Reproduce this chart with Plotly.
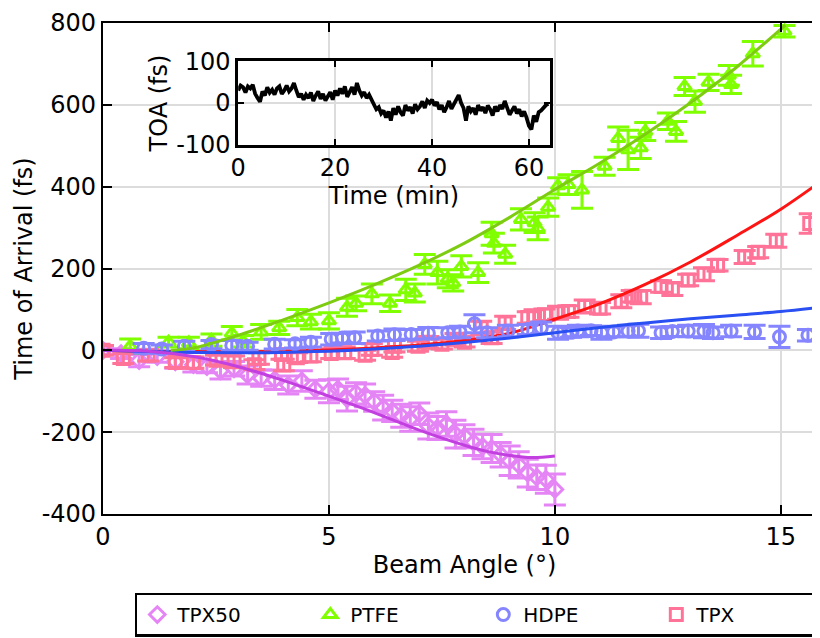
import plotly.graph_objects as go

# ---------------- data ----------------
tpx50_x = [0, 0.4, 0.8, 1.2, 1.6, 2.0, 2.3, 2.6, 2.9, 3.2, 3.5, 3.8, 4.1, 4.4, 4.7, 5.0, 5.2, 5.4, 5.6, 5.8,
           6.0, 6.2, 6.4, 6.6, 6.8, 7.0, 7.2, 7.4, 7.6, 7.8, 8.0, 8.2, 8.4, 8.6, 8.8, 9.0, 9.2, 9.4, 9.6, 9.8, 10.0]
tpx50_y = [0, -8, -25, -15, -28, -35, -40, -50, -45, -60, -68, -72, -85, -75, -95, -100, -95, -118, -105, -110,
           -125, -140, -148, -160, -168, -155, -185, -190, -180, -205, -210, -225, -235, -240, -255, -270, -280, -300, -310, -315, -340]
tpx50_e = [10, 12, 15, 14, 16, 18, 15, 20, 18, 22, 20, 24, 22, 25, 22, 28, 25, 30, 26, 28,
           24, 30, 26, 28, 30, 26, 32, 28, 30, 34, 28, 32, 30, 34, 30, 36, 32, 34, 30, 34, 38]

ptfe_x = [0.6, 1.45, 1.9, 2.4, 2.85, 3.1, 3.5, 3.9, 4.3, 4.6, 5.0, 5.4, 5.6, 5.95, 6.35, 6.7, 6.9, 7.12, 7.4, 7.63,
          7.75, 7.93, 8.3, 8.6, 8.65, 8.9, 9.25, 9.55, 9.62, 9.85, 10.07, 10.3, 10.6, 11.1, 11.4, 11.62, 11.9, 12.0,
          12.5, 12.68, 12.87, 13.1, 13.4, 13.85, 13.9, 14.38, 15.08]
ptfe_y = [10, 20, 18, 25, 42, 22, 45, 55, 80, 70, 72, 105, 115, 138, 115, 148, 140, 210, 190, 175,
          165, 205, 190, 285, 262, 235, 320, 312, 298, 350, 402, 405, 392, 450, 518, 490, 495, 535,
          560, 535, 645, 608, 655, 672, 650, 725, 780]
ptfe_e = [18, 12, 14, 15, 16, 14, 18, 16, 20, 18, 20, 22, 18, 24, 20, 26, 22, 24, 28, 22,
          20, 26, 24, 28, 24, 22, 26, 24, 28, 22, 20, 24, 45, 22, 28, 48, 26, 22,
          20, 24, 22, 26, 20, 24, 22, 30, 14]

hdpe_x = [0.9, 1.3, 1.8, 2.4, 2.85, 3.2, 3.8, 4.25, 4.6, 5.05, 5.3, 5.57, 6.08, 6.45, 6.82, 7.2, 7.63, 7.9, 8.22,
          8.5, 8.96, 9.4, 9.7, 10.07, 10.36, 10.51, 10.8, 11.03, 11.3, 11.62, 11.85, 12.35, 12.6, 12.95, 13.3, 13.5,
          13.9, 14.42, 14.97, 15.6]
hdpe_y = [5, 3, 10, 14, 12, 10, 15, 16, 20, 27, 30, 31, 35, 38, 39, 42, 43, 45, 65,
          43, 47, 51, 55, 43, 44, 47, 48, 43, 45, 47, 48, 43, 46, 47, 47, 43,
          47, 45, 33, 37]
hdpe_e = [12, 10, 12, 10, 12, 10, 12, 10, 12, 14, 12, 14, 12, 14, 12, 14, 12, 14, 22,
          12, 14, 12, 14, 16, 12, 14, 12, 16, 12, 14, 16, 14, 12, 14, 16, 14,
          14, 16, 26, 14]

tpx_x = [0, 0.45, 1.0, 1.6, 2.0, 2.5, 2.9, 3.35, 3.45, 3.95, 4.0, 4.3, 4.6, 5.05, 5.35, 5.8, 5.95, 6.4, 6.45, 6.97,
         7.2, 7.5, 7.8, 8.0, 8.37, 8.6, 8.9, 9.4, 9.55, 9.77, 10.07, 10.3, 10.66, 11.0, 11.47, 11.7, 11.9, 12.35,
         12.6, 12.95, 13.3, 13.6, 14.2, 14.5, 14.9, 15.64]
tpx_y = [0, -20, -12, -30, -30, -24, -28, -35, -20, -10, -36, -18, -14, -8, -6, -12, 2, -5, 10, 10,
         20, 15, 27, 20, 55, 31, 67, 80, 83, 87, 92, 95, 107, 103, 120, 132, 130, 156,
         150, 172, 186, 208, 228, 240, 268, 310]
tpx_e = [12, 12, 14, 12, 14, 12, 14, 12, 14, 12, 14, 12, 14, 12, 14, 12, 14, 12, 14, 12,
         14, 12, 14, 12, 16, 14, 16, 14, 16, 14, 16, 14, 16, 14, 16, 14, 16, 14,
         16, 14, 16, 14, 16, 14, 16, 24]

# fitted curves
fit_tpx50_x = [0, 1, 2, 3, 4, 5, 6, 7, 8, 8.5, 9, 9.5, 10]
fit_tpx50_y = [0, -2, -15, -40, -74, -112, -152, -195, -232, -247, -257, -262, -258]

fit_ptfe_x = [1.5, 2, 3, 4, 5, 6, 7, 8, 9, 10, 11, 12, 13, 14, 15.1]
fit_ptfe_y = [0, 6, 37, 75, 116, 160, 208, 262, 325, 393, 458, 528, 605, 690, 795]

fit_hdpe_x = [0, 1, 2, 3, 4, 5, 6, 7, 8, 9, 10, 11, 12, 13, 14, 15, 15.7]
fit_hdpe_y = [0, -3, -5, -6, -5, -2, 3, 10, 19, 30, 43, 56, 67, 77, 86, 95, 103]

fit_tpx_x = [0, 1, 2, 3, 4, 5, 6, 7, 8, 9, 10, 11, 12, 13, 14, 15, 16]
fit_tpx_y = [0, -2, -3, -3, -2, 1, 6, 13, 24, 42, 76, 114, 161, 216, 279, 345, 422]

# inset: time of arrival drift, one value every 0.5 min
toa_step = 0.5
toa_vals = [30, 42, 38, 25, 40, 35, 44, 22, 12, 3,
            28, 18, 38, 25, 32, 20, 35, 40, 22, 30,
            42, 28, 35, 48, 30, 14, 22, 8, 20, 12,
            25, 5, 18, 28, 10, 22, 6, 15, 26, 8,
            30, 18, 35, 22, 40, 15, 28, 38, 20, 48,
            30, 18, 26, 12, 20, 8, -5, -15, -10, -25,
            -18, -35, -20, -42, -12, -28, -8, -22, -30, -5,
            -18, -10, -25, -3, -15, -8, 4, -12, 6, 0,
            8, -6, 2, -15, -5, -22, -10, 5, -14, -2,
            10, 19, 0, -12, -42, -8, -20, -12, -28, -5,
            -18, -10, -24, -6, -15, -30, -8, -20, -5, -14,
            5, -12, -28, -18, -8, -25, -15, -32, -20, -35,
            -55, -63, -30, -45, -22, -18, -10, -5, -2]
toa_time = [i * toa_step for i in range(len(toa_vals))]

x_ticks = [0, 5, 10, 15]
x_ticktext = ["0", "5", "10", "15"]
y_ticks = [-400, -200, 0, 200, 400, 600, 800]
y_ticktext = ["-400", "-200", "0", "200", "400", "600", "800"]
inset_x_ticks = [0, 20, 40, 60]
inset_x_ticktext = ["0", "20", "40", "60"]
inset_y_ticks = [-100, 0, 100]
inset_y_ticktext = ["-100", "0", "100"]

# ---------------- styles ----------------
C_TPX50 = "#e585f5"
C_PTFE = "#80ff00"
C_HDPE = "#8585ff"
C_TPX = "#ff7398"
F_TPX50 = "#c23fe0"
F_PTFE = "#7dcc12"
F_HDPE = "#2a4ff2"
F_TPX = "#ff1414"
FONT = "DejaVu Sans"

fig = go.Figure()

def data_trace(name, x, y, e, color, symbol, rank):
    return go.Scatter(
        x=x, y=y, name=name, mode="markers", legendrank=rank,
        marker=dict(symbol=symbol, size=12, color=color, line=dict(color=color, width=3)),
        error_y=dict(type="data", array=e, visible=True, color=color, thickness=3, width=11),
        xaxis="x", yaxis="y",
    )

def fit_trace(x, y, color):
    return go.Scatter(x=x, y=y, mode="lines", line=dict(color=color, width=3, shape="spline"),
                      showlegend=False, hoverinfo="skip", xaxis="x", yaxis="y")

fig.add_trace(data_trace("TPX50", tpx50_x, tpx50_y, tpx50_e, C_TPX50, "diamond-open", 1))
fig.add_trace(data_trace("PTFE", ptfe_x, ptfe_y, ptfe_e, C_PTFE, "triangle-up-open", 2))
fig.add_trace(data_trace("TPX", tpx_x, tpx_y, tpx_e, C_TPX, "square-open", 4))
fig.add_trace(fit_trace(fit_tpx_x, fit_tpx_y, F_TPX))
fig.add_trace(data_trace("HDPE", hdpe_x, hdpe_y, hdpe_e, C_HDPE, "circle-open", 3))
fig.add_trace(fit_trace(fit_hdpe_x, fit_hdpe_y, F_HDPE))
fig.add_trace(fit_trace(fit_ptfe_x, fit_ptfe_y, F_PTFE))
fig.add_trace(fit_trace(fit_tpx50_x, fit_tpx50_y, F_TPX50))

fig.add_trace(go.Scatter(x=toa_time, y=toa_vals, mode="lines", line=dict(color="black", width=3.8),
                         showlegend=False, hoverinfo="skip", xaxis="x2", yaxis="y2"))

axis_common = dict(showline=True, linecolor="black", mirror="ticks", ticks="inside", automargin=False,
                   ticklabeloverflow="allow",
                   tickcolor="black", showgrid=True, gridcolor="#dcdcdc", gridwidth=1.5,
                   zeroline=False, tickfont=dict(family=FONT, size=24, color="black"))

fig.update_layout(
    width=820, height=638,
    margin=dict(l=95, r=2, t=15, b=132, autoexpand=False),
    paper_bgcolor="white", plot_bgcolor="white",
    font=dict(family=FONT, size=24, color="black"),
    xaxis=dict(**axis_common, range=[0, 16], tickvals=x_ticks, ticktext=x_ticktext, ticklen=9, tickwidth=2,
               linewidth=2.2, domain=[0, 1],
               title=dict(text="Beam Angle (°)", font=dict(family=FONT, size=24), standoff=4)),
    yaxis=dict(**axis_common, range=[-400, 800], tickvals=y_ticks, ticktext=y_ticktext, ticklen=9, tickwidth=2,
               linewidth=2.2, domain=[0, 1],
               title=dict(text="Time of Arrival (fs)", font=dict(family=FONT, size=24), standoff=2)),
    xaxis2=dict(**axis_common, range=[0, 64.3], tickvals=inset_x_ticks, ticktext=inset_x_ticktext, ticklen=6,
                tickwidth=2, linewidth=2.6, domain=[0.187, 0.618], anchor="y2",
                title=dict(text="Time (min)", font=dict(family=FONT, size=24), standoff=2)),
    yaxis2=dict(**axis_common, range=[-100, 100], tickvals=inset_y_ticks, ticktext=inset_y_ticktext, ticklen=6,
                tickwidth=2, linewidth=2.6, domain=[0.752, 0.922], anchor="x2",
                title=dict(text="TOA (fs)", font=dict(family=FONT, size=24), standoff=2)),
    legend=dict(orientation="h", x=0.044, y=-0.16, xanchor="left", yanchor="top",
                bordercolor="black", borderwidth=2.5, bgcolor="white",
                font=dict(family=FONT, size=20, color="black"),
                entrywidth=128, entrywidthmode="pixels", itemwidth=30, tracegroupgap=0),
    showlegend=True,
)

fig.write_html("out.html")
